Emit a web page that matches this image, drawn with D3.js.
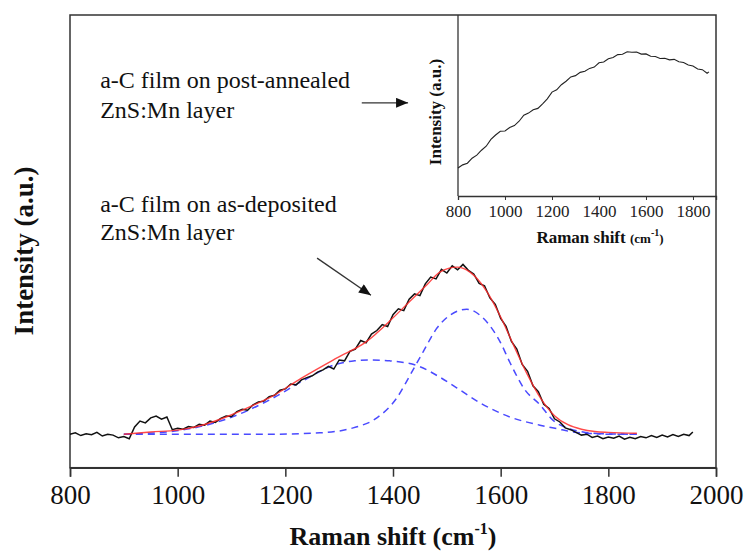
<!DOCTYPE html>
<html>
<head>
<meta charset="utf-8">
<script src="https://cdnjs.cloudflare.com/ajax/libs/d3/7.8.5/d3.min.js"></script>
<style>
  body { margin: 0; background: #fff; }
</style>
</head>
<body>
<div id="sandbox"></div>
<script>
// Raman shift (cm-1) of the measured spectrum, a-C film on as-deposited layer
var shift = [800, 810, 820, 830, 840, 850, 860, 870, 880, 890, 900, 910, 920, 930, 940, 950, 960, 970, 980, 990,
  1000, 1010, 1020, 1030, 1040, 1050, 1060, 1070, 1080, 1090, 1100, 1110, 1120, 1130, 1140, 1150, 1160, 1170, 1180, 1190,
  1200, 1210, 1220, 1230, 1240, 1250, 1260, 1270, 1280, 1290, 1300, 1310, 1320, 1330, 1340, 1350, 1360, 1370, 1380, 1390,
  1400, 1410, 1420, 1430, 1440, 1450, 1460, 1470, 1480, 1490, 1500, 1510, 1520, 1530, 1540, 1550, 1560, 1570, 1580, 1590,
  1600, 1610, 1620, 1630, 1640, 1650, 1660, 1670, 1680, 1690, 1700, 1710, 1720, 1730, 1740, 1750, 1760, 1770, 1780, 1790,
  1800, 1810, 1820, 1830, 1840, 1850, 1860, 1870, 1880, 1890, 1900, 1910, 1920, 1930, 1940, 1950, 1957];
var measured = [74, 77, 71, 75, 73, 78, 70, 74, 72, 66, 69, 64, 90, 103, 99, 110, 114, 107, 112, 84,
  87, 85, 91, 89, 96, 94, 103, 100, 109, 114, 113, 124, 129, 127, 139, 145, 147, 157, 160, 171,
  174, 185, 183, 194, 199, 203, 211, 216, 224, 218, 238, 236, 257, 262, 281, 276, 295, 303, 316, 312,
  338, 351, 347, 372, 384, 380, 406, 421, 417, 438, 430, 446, 437, 449, 436, 428, 407, 402, 375, 361,
  330, 312, 279, 262, 228, 213, 181, 168, 140, 131, 108, 101, 88, 84, 78, 72, 74, 67, 70, 64,
  68, 65, 70, 63, 67, 64, 69, 66, 71, 67, 72, 68, 73, 69, 74, 71, 79];

// fitted envelope (red)
var fitShift = [900, 950, 1000, 1040, 1090, 1150, 1170, 1230, 1295, 1350, 1400, 1430, 1463, 1487, 1519, 1543,
  1575, 1600, 1625, 1650, 1675, 1700, 1725, 1750, 1775, 1800, 1853];
var fitTotal = [74, 79, 83, 92, 112, 143, 154, 198, 242, 278, 331, 366, 404, 432, 443, 432,
  388, 333, 268, 205, 152, 115, 95, 85, 80, 78, 76];

// D band (blue dashed, broad)
var dShift = [900, 995, 1092, 1171, 1233, 1296, 1329, 1357, 1394, 1446, 1487, 1519, 1562, 1617, 1673, 1705, 1734, 1784, 1853];
var dBand = [74, 81, 108, 150, 192, 229, 236, 238, 236, 225, 200, 176, 143, 112, 94, 86, 79, 75, 74];

// G band (blue dashed, narrow)
var gShift = [900, 1171, 1264, 1326, 1370, 1407, 1432, 1456, 1482, 1506, 1537, 1567, 1599, 1617, 1645, 1673, 1697, 1723, 1753, 1803, 1853];
var gBand = [74, 74, 77, 88, 110, 154, 205, 256, 309, 337, 350, 331, 278, 233, 172, 139, 105, 88, 79, 74, 74];

// inset: a-C film on post-annealed layer
var insetShift = [800, 820, 840, 860, 880, 900, 920, 940, 960, 980, 1000, 1020, 1040, 1060, 1080, 1100, 1120, 1140, 1160, 1180,
  1200, 1220, 1240, 1260, 1280, 1300, 1320, 1340, 1360, 1380, 1400, 1420, 1440, 1460, 1480, 1500, 1520, 1540, 1560, 1580,
  1600, 1620, 1640, 1660, 1680, 1700, 1720, 1740, 1760, 1780, 1800, 1820, 1840, 1860, 1868];
var insetIntensity = [155, 172, 181, 209, 226, 253, 275, 313, 337, 358, 359, 378, 389, 413, 446, 458, 476, 484, 509, 537,
  574, 587, 615, 634, 658, 665, 683, 689, 705, 712, 736, 740, 758, 765, 781, 783, 797, 794, 795, 784,
  785, 772, 771, 760, 761, 752, 755, 742, 738, 724, 718, 702, 698, 678, 686];

var mainTicks = [800, 1000, 1200, 1400, 1600, 1800, 2000];
var insetTicks = [800, 1000, 1200, 1400, 1600, 1800];

// notes: [shift, intensity, text]
var notes = [
  [856, 839, 'a-C film on post-annealed'],
  [856, 772, 'ZnS:Mn layer'],
  [856, 565, 'a-C film on as-deposited'],
  [856, 503, 'ZnS:Mn layer']
];
// arrows: [x1, y1, x2, y2] in main data units
var arrows = [
  [1342, 806, 1428, 806],
  [1259, 463, 1359, 381]
];

var serif = '"Liberation Serif", "Times New Roman", Times, serif';

(function() {
  var svg = d3.select('#sandbox').append('svg').attr('width', 747).attr('height', 553)
    .style('font-family', serif);

  var x = d3.scaleLinear().domain([800, 2000]).range([70, 716]);
  var y = d3.scaleLinear().domain([0, 1000]).range([467.7, 15]);

  var xi = d3.scaleLinear().domain([800, 1898]).range([458, 716]);
  var yi = d3.scaleLinear().domain([0, 1000]).range([196, 15]);

  svg.append('defs').append('marker')
    .attr('id', 'head')
    .attr('markerUnits', 'userSpaceOnUse')
    .attr('viewBox', '0 0 12 10')
    .attr('refX', 12).attr('refY', 5)
    .attr('markerWidth', 13).attr('markerHeight', 10)
    .attr('orient', 'auto')
    .append('path').attr('d', 'M0,0 L12,5 L0,10 Z').attr('fill', '#111');

  // main frame
  svg.append('rect')
    .attr('x', 70).attr('y', 15).attr('width', 646).attr('height', 452.7)
    .attr('fill', 'none').attr('stroke', '#333').attr('stroke-width', 1.5);

  // bottom axis of main plot
  var xAxis = svg.append('g')
    .attr('transform', 'translate(0,467.7)')
    .call(d3.axisBottom(x).tickValues(mainTicks).tickSize(9).tickPadding(8).tickFormat(d3.format('d')));
  xAxis.select('.domain').attr('stroke', '#333').attr('stroke-width', 1.5);
  xAxis.selectAll('.tick line').attr('stroke', '#333').attr('stroke-width', 1.5);
  xAxis.selectAll('.tick text').style('font-family', serif).attr('font-size', 27).attr('fill', '#111');

  var line = function(xs, sx, sy) {
    return d3.line().x(function(d, i) { return sx(xs[i]); }).y(function(d) { return sy(d); });
  };

  // fitted bands
  svg.append('path').datum(dBand)
    .attr('d', line(dShift, x, y).curve(d3.curveMonotoneX))
    .attr('fill', 'none').attr('stroke', '#4a4aff').attr('stroke-width', 1.5).attr('stroke-dasharray', '7,5');
  svg.append('path').datum(gBand)
    .attr('d', line(gShift, x, y).curve(d3.curveMonotoneX))
    .attr('fill', 'none').attr('stroke', '#4a4aff').attr('stroke-width', 1.5).attr('stroke-dasharray', '7,5');

  // measured spectrum
  svg.append('path').datum(measured)
    .attr('d', line(shift, x, y))
    .attr('fill', 'none').attr('stroke', '#111').attr('stroke-width', 1.5);

  // fit envelope on top
  svg.append('path').datum(fitTotal)
    .attr('d', line(fitShift, x, y).curve(d3.curveMonotoneX))
    .attr('fill', 'none').attr('stroke', '#ff2a2a').attr('stroke-width', 1.4).attr('opacity', 0.85);

  // axis titles
  var xt = svg.append('text').attr('x', 393).attr('y', 545).attr('text-anchor', 'middle')
    .style('font-family', serif).attr('font-size', 26).attr('font-weight', 'bold').attr('fill', '#111');
  xt.append('tspan').text('Raman shift (cm');
  xt.append('tspan').attr('dy', -11).attr('font-size', 16).text('-1');
  xt.append('tspan').attr('dy', 11).text(')');

  svg.append('text')
    .attr('transform', 'translate(33,251) rotate(-90)')
    .attr('text-anchor', 'middle').style('font-family', serif)
    .attr('font-size', 27).attr('font-weight', 'bold').attr('fill', '#111')
    .text('Intensity (a.u.)');

  // notes and arrows
  svg.selectAll('text.note').data(notes).enter().append('text')
    .attr('class', 'note')
    .attr('x', function(d) { return x(d[0]); })
    .attr('y', function(d) { return y(d[1]); })
    .style('font-family', serif)
    .attr('font-size', 24).attr('fill', '#111')
    .text(function(d) { return d[2]; });

  svg.selectAll('line.arrow').data(arrows).enter().append('line')
    .attr('class', 'arrow')
    .attr('x1', function(d) { return x(d[0]); }).attr('y1', function(d) { return y(d[1]); })
    .attr('x2', function(d) { return x(d[2]); }).attr('y2', function(d) { return y(d[3]); })
    .attr('stroke', '#333').attr('stroke-width', 1.3).attr('marker-end', 'url(#head)');

  // inset
  var inset = svg.append('g');
  inset.append('line').attr('x1', 458).attr('x2', 458).attr('y1', 15).attr('y2', 196)
    .attr('stroke', '#333').attr('stroke-width', 1.3);
  var ixAxis = inset.append('g')
    .attr('transform', 'translate(0,196)')
    .call(d3.axisBottom(xi).tickValues(insetTicks).tickSize(4).tickPadding(5).tickFormat(d3.format('d')));
  ixAxis.select('.domain').attr('stroke', '#333').attr('stroke-width', 1.3);
  ixAxis.selectAll('.tick line').attr('stroke', '#333');
  ixAxis.selectAll('.tick text').style('font-family', serif).attr('font-size', 17).attr('fill', '#222');

  inset.append('path').datum(insetIntensity)
    .attr('d', line(insetShift, xi, yi))
    .attr('fill', 'none').attr('stroke', '#222').attr('stroke-width', 1.1);

  var it = inset.append('text').attr('x', 600).attr('y', 243).attr('text-anchor', 'middle')
    .style('font-family', serif).attr('font-size', 17).attr('font-weight', 'bold').attr('fill', '#111');
  it.append('tspan').text('Raman shift ');
  it.append('tspan').attr('font-size', 13).text('(cm');
  it.append('tspan').attr('dy', -7).attr('font-size', 10).text('-1');
  it.append('tspan').attr('dy', 7).attr('font-size', 13).text(')');

  inset.append('text')
    .attr('transform', 'translate(441,112) rotate(-90)')
    .attr('text-anchor', 'middle').style('font-family', serif)
    .attr('font-size', 17).attr('font-weight', 'bold').attr('fill', '#111')
    .text('Intensity (a.u.)');
})();
</script>
</body>
</html>
